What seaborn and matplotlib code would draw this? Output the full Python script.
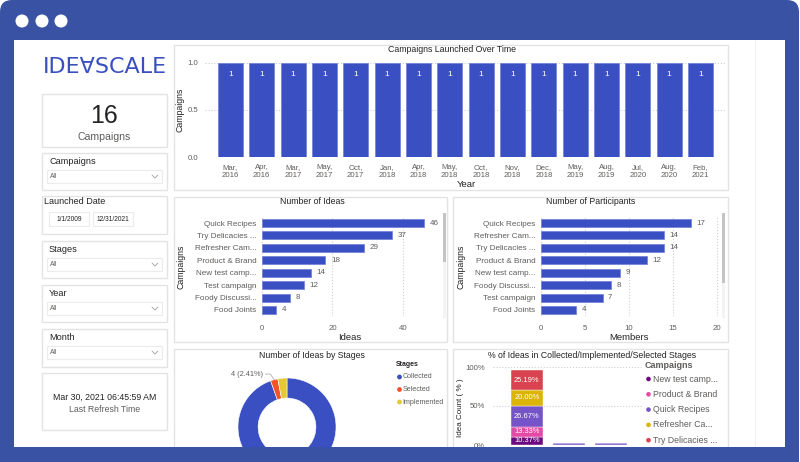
import numpy as np
import pandas as pd
import seaborn as sns
import matplotlib.pyplot as plt
from matplotlib.patches import FancyBboxPatch, Rectangle, Circle

# Data
launch_months = ["Mar,\n2016", "Apr,\n2016", "Mar,\n2017", "May,\n2017", "Oct,\n2017", "Jan,\n2018",
                 "Apr,\n2018", "May,\n2018", "Oct,\n2018", "Nov,\n2018", "Dec,\n2018", "May,\n2019",
                 "Aug,\n2019", "Jul,\n2020", "Aug,\n2020", "Feb,\n2021"]
launch_counts = [1, 1, 1, 1, 1, 1, 1, 1, 1, 1, 1, 1, 1, 1, 1, 1]

idea_campaigns = ["Quick Recipes", "Try Delicacies ...", "Refresher Cam...", "Product & Brand",
                  "New test camp...", "Test campaign", "Foody Discussi...", "Food Joints"]
idea_counts = [46, 37, 29, 18, 14, 12, 8, 4]

member_campaigns = ["Quick Recipes", "Refresher Cam...", "Try Delicacies ...", "Product & Brand",
                    "New test camp...", "Foody Discussi...", "Test campaign", "Food Joints"]
member_counts = [17, 14, 14, 12, 9, 8, 7, 4]

stage_names = ["Collected", "Selected", "Implemented"]
stage_counts = [157, 4, 5]

pct_stages = ["Collected", "Implemented", "Selected"]
pct_campaigns = ["New test camp...", "Product & Brand", "Quick Recipes", "Refresher Ca...", "Try Delicacies ..."]
pct_new_test = [10.37, 0, 0]
pct_product = [13.33, 0, 0]
pct_quick = [26.67, 2.22, 2.22]
pct_refresher = [20.00, 0, 0]
pct_try = [25.19, 0, 0]

W, H = 800, 462
FRAME = "#3a52a4"
BLUE = "#3a4fc2"
GRAY = "#605e5c"
DARK = "#252423"
BORDER = "#e3e3e3"
stage_colors = [BLUE, "#f2552c", "#e5c932"]
pct_colors = ["#6c0a7f", "#e24aa5", "#7554c8", "#dcb408", "#d9434f"]

sns.set_theme(style="white")
plt.rcParams["font.family"] = ["Liberation Sans", "DejaVu Sans"]

TITLE = 6.3
TICK = 5.6
AXLAB = 6.3


def fr(x, y, w, h):
    return [x / W, 1 - (y + h) / H, w / W, h / H]


def label_at(ax, box, axis, px, py):
    # place an axis label at a pixel position
    x0, y0, w, h = box
    coords = ((px - x0) / w, 1 - (py - y0) / h)
    if axis == "x":
        ax.xaxis.set_label_coords(*coords)
    else:
        ax.yaxis.set_label_coords(*coords)


fig = plt.figure(figsize=(8, 4.62), dpi=100)

# ---- background: window frame, panels, slicers
bg = fig.add_axes([0, 0, 1, 1])
bg.set_xlim(0, W)
bg.set_ylim(H, 0)
bg.axis("off")
bg.add_patch(FancyBboxPatch((0, 0), 799, 480, boxstyle="round,pad=0,rounding_size=12",
                            fc=FRAME, ec="none"))
bg.add_patch(Rectangle((14, 40), 771, 410, fc="white", ec="none"))
for cx in [22, 42, 61]:
    bg.add_patch(Circle((cx, 21), 6.5, fc="white", ec="none"))
bg.plot([755, 755], [40, 447], color="#f0f0f0", lw=0.8)

panels = [(42, 94, 125, 53), (42, 153, 125, 37), (42, 196, 125, 38), (42, 241, 125, 37),
          (42, 285, 125, 37), (42, 329, 125, 38), (42, 373, 125, 57),
          (174, 45, 554, 145), (174, 197, 273, 145), (453, 197, 275, 145),
          (174, 349, 273, 120), (453, 349, 275, 120)]
for x, y, w, h in panels:
    bg.add_patch(Rectangle((x, y), w, h, fc="none", ec=BORDER, lw=1))

bg.text(43, 67, "IDE\u2200SCALE", fontsize=16, color="#3b50c0", va="center", ha="left",
        family="DejaVu Sans")
bg.text(104.5, 116, "16", fontsize=18, color=DARK, ha="center", va="center")
bg.text(104.5, 137, "Campaigns", fontsize=7.6, color=GRAY, ha="center", va="center")

for title, ty in [("Campaigns", 161), ("Stages", 249), ("Year", 293), ("Month", 337)]:
    bg.text(49, ty, title, fontsize=6.6, color=DARK, va="center")
    by = ty + 9
    bg.add_patch(Rectangle((47, by), 115, 12.5, fc="white", ec="#ececec", lw=0.8))
    bg.text(50, by + 6.5, "All", fontsize=4.8, color=GRAY, va="center")
    bg.plot([152, 155, 158], [by + 5, by + 8, by + 5], color="#a0a0a0", lw=0.6)

bg.text(44, 202, "Launched Date", fontsize=6.5, color=DARK, va="center")
for x0, txt in [(49, "1/1/2009"), (93, "12/31/2021")]:
    bg.add_patch(Rectangle((x0, 212), 40, 14, fc="white", ec="#ececec", lw=0.8))
    bg.text(x0 + 20, 219.5, txt, fontsize=4.8, color=DARK, ha="center", va="center")

bg.text(104.5, 397, "Mar 30, 2021 06:45:59 AM", fontsize=6.3, color=DARK, ha="center", va="center")
bg.text(104.5, 410, "Last Refresh Time", fontsize=6.3, color=GRAY, ha="center", va="center")

bg.text(452, 50, "Campaigns Launched Over Time", fontsize=TITLE, color=DARK, ha="center", va="center")
bg.text(312, 202, "Number of Ideas", fontsize=TITLE, color=DARK, ha="center", va="center")
bg.text(591, 202, "Number of Participants", fontsize=TITLE, color=DARK, ha="center", va="center")
bg.text(312, 355, "Number of Ideas by Stages", fontsize=TITLE, color=DARK, ha="center", va="center")
bg.text(592, 355, "% of Ideas in Collected/Implemented/Selected Stages", fontsize=TITLE, color=DARK,
        ha="center", va="center")

# scrollbars
for sx, thumb in [(444, 262), (723, 283)]:
    bg.add_patch(Rectangle((sx - 1.5, 213), 3, 105, fc="#f3f3f3", ec="none"))
    bg.add_patch(Rectangle((sx - 1.5, 213), 3, thumb - 213, fc="#c4c4c4", ec="none"))

tick_kw = dict(length=0, colors=GRAY)

# ---- Campaigns launched over time
box = (205, 62.7, 520, 94.6)
ax = fig.add_axes(fr(*box))
ax.set_facecolor("none")
sns.barplot(x=launch_months, y=launch_counts, color=BLUE, saturation=1, width=0.8,
            edgecolor="#6f7fd8", linewidth=0.5, ax=ax)
ax.set_xlim(-0.81, 15.78)
ax.set_ylim(0, 1)
ax.set_yticks([0, 0.5, 1.0])
ax.set_yticklabels(["0.0", "0.5", "1.0"])
ax.tick_params(axis="y", labelsize=TICK, pad=5, **tick_kw)
ax.tick_params(axis="x", labelsize=TICK, pad=5, **tick_kw)
ax.grid(axis="y", linestyle=":", color="#cfcfcf", lw=0.8)
ax.bar_label(ax.containers[0], padding=-11, color="white", fontsize=6)
ax.set_xlabel("Year", fontsize=AXLAB + 0.5, color=DARK)
ax.set_ylabel("Campaigns", fontsize=AXLAB, color=DARK)
label_at(ax, box, "x", 466, 180)
label_at(ax, box, "y", 185, 110)
sns.despine(ax=ax, left=True, bottom=True)

# ---- Number of ideas
box = (262, 216.8, 178, 99.4)
ax = fig.add_axes(fr(*box))
ax.set_facecolor("none")
sns.barplot(x=idea_counts, y=idea_campaigns, orient="h", color=BLUE, saturation=1, width=0.65,
            edgecolor="#6f7fd8", linewidth=0.5, ax=ax)
ax.set_xlim(0, 50.5)
ax.set_xticks([0, 20, 40])
ax.tick_params(axis="y", labelsize=5.9, pad=4, **tick_kw)
ax.tick_params(axis="x", labelsize=TICK, pad=6, **tick_kw)
ax.grid(axis="x", linestyle=":", color="#cfcfcf", lw=0.8)
ax.bar_label(ax.containers[0], padding=4, color=GRAY, fontsize=5.8)
ax.set_xlabel("Ideas", fontsize=AXLAB + 0.5, color=DARK)
ax.set_ylabel("Campaigns", fontsize=AXLAB, color=DARK)
label_at(ax, box, "x", 350, 333)
label_at(ax, box, "y", 186, 267)
sns.despine(ax=ax, left=True, bottom=True)

# ---- Number of participants
box = (541, 216.8, 179, 99.4)
ax = fig.add_axes(fr(*box))
ax.set_facecolor("none")
sns.barplot(x=member_counts, y=member_campaigns, orient="h", color=BLUE, saturation=1, width=0.65,
            edgecolor="#6f7fd8", linewidth=0.5, ax=ax)
ax.set_xlim(0, 20.35)
ax.set_xticks([0, 5, 10, 15, 20])
ax.tick_params(axis="y", labelsize=5.9, pad=4, **tick_kw)
ax.tick_params(axis="x", labelsize=TICK, pad=6, **tick_kw)
ax.grid(axis="x", linestyle=":", color="#cfcfcf", lw=0.8)
ax.bar_label(ax.containers[0], padding=4, color=GRAY, fontsize=5.8)
ax.set_xlabel("Members", fontsize=AXLAB + 0.5, color=DARK)
ax.set_ylabel("Campaigns", fontsize=AXLAB, color=DARK)
label_at(ax, box, "x", 629, 333)
label_at(ax, box, "y", 465, 267)
sns.despine(ax=ax, left=True, bottom=True)

# ---- Ideas by stage donut
ax = fig.add_axes(fr(232, 372, 110, 110))
wedges, _ = ax.pie(stage_counts, colors=stage_colors, startangle=90, counterclock=False,
                   radius=1, wedgeprops=dict(width=0.41, edgecolor="white", linewidth=0.4))
ax.set_xlim(-1.122, 1.122)
ax.set_ylim(-1.122, 1.122)
ax.set_aspect("equal")
w = wedges[1]
ang = np.deg2rad((w.theta1 + w.theta2) / 2)
share = stage_counts[1] / sum(stage_counts) * 100
ax.plot([-0.44, -0.34, np.cos(ang)], [1.08, 1.08, np.sin(ang)], color="#b0b0b0", lw=0.6, clip_on=False)
ax.text(-0.48, 1.08, f"{stage_counts[1]} ({share:.2f}%)", fontsize=5.3, color=GRAY,
        ha="right", va="center", clip_on=False)

bg.text(396, 365, "Stages", fontsize=5, color=DARK, fontweight="bold", va="center")
for i, (name, col) in enumerate(zip(stage_names, stage_colors)):
    yy = 377 + 12.5 * i
    bg.add_patch(Circle((399.5, yy), 2.4, fc=col, ec="none"))
    bg.text(402.5, yy, name, fontsize=5.1, color=GRAY, va="center")

# ---- % of ideas stacked bars
box = (493, 367, 149, 78)
ax = fig.add_axes(fr(*box))
ax.set_facecolor("none")
pct_series = [pct_new_test, pct_product, pct_quick, pct_refresher, pct_try]
pos = np.arange(len(pct_stages))
bottom = np.zeros(len(pct_stages))
for vals, col in zip(pct_series, pct_colors):
    vals = np.array(vals)
    bars = ax.bar(pos, vals, bottom=bottom, width=0.76, color=col, edgecolor="white", linewidth=0.3)
    labels = [f"{v:.2f}%" if v > 5 else "" for v in vals]
    ax.bar_label(bars, labels=labels, label_type="center", color="white", fontsize=5.4)
    bottom += vals
ax.set_xlim(-0.81, 2.75)
ax.set_ylim(0, 100)
ax.set_yticks([0, 50, 100])
ax.set_yticklabels(["0%", "50%", "100%"])
ax.set_xticks([])
ax.tick_params(axis="y", labelsize=TICK, pad=6, **tick_kw)
ax.grid(axis="y", linestyle=":", color="#cfcfcf", lw=0.8)
ax.set_ylabel("Idea Count ( % )", fontsize=5.8, color=DARK)
label_at(ax, box, "y", 464, 408)
sns.despine(ax=ax, left=True, bottom=True)

bg.text(645, 366, "Campaigns", fontsize=6.5, color=GRAY, fontweight="bold", va="center")
for i, (name, col) in enumerate(zip(pct_campaigns, pct_colors)):
    yy = 379 + 15.3 * i
    bg.add_patch(Circle((648.5, yy), 2.3, fc=col, ec="none"))
    bg.text(653, yy, name, fontsize=6.3, color=GRAY, va="center")

# ---- frame overlay at the bottom (window is cut off)
top = fig.add_axes([0, 0, 1, 1])
top.set_xlim(0, W)
top.set_ylim(H, 0)
top.axis("off")
top.set_zorder(10)
top.add_patch(Rectangle((0, 447), 799, 16, fc=FRAME, ec="none"))
top.add_patch(Rectangle((785, 40), 14, 420, fc=FRAME, ec="none"))

fig.savefig("out.png", dpi=100)
